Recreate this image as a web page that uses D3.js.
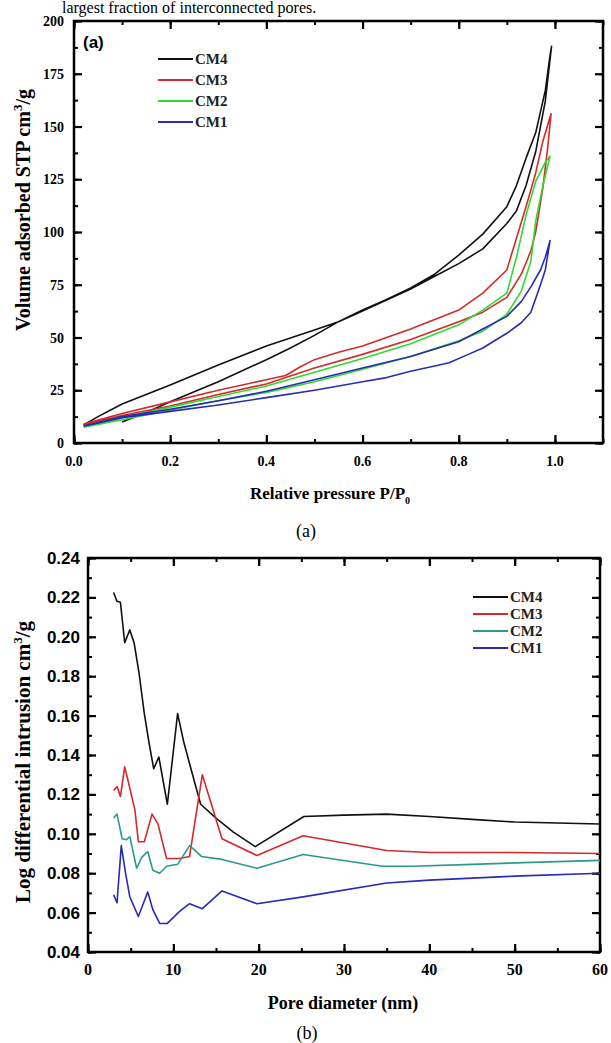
<!DOCTYPE html>
<html>
<head>
<meta charset="utf-8">
<script src="https://cdn.jsdelivr.net/npm/d3@7"></script>
<style>
  body { margin: 0; background: #fff; }
  svg { display: block; }
</style>
</head>
<body>
<div id="chart"></div>
<script>
// ---- data: panel (a) N2 isotherms, path order = adsorption up, desorption back ----
const cm4P = [0.10, 0.15, 0.2, 0.3, 0.4, 0.45, 0.5, 0.55, 0.6, 0.65, 0.7, 0.75, 0.8, 0.85, 0.9, 0.92, 0.94, 0.96, 0.98, 0.99, 0.993,
  0.98, 0.96, 0.94, 0.92, 0.9, 0.85, 0.8, 0.75, 0.7, 0.6, 0.55, 0.5, 0.4, 0.3, 0.2, 0.1, 0.05, 0.02];
const cm4V = [10, 14.5, 19.5, 29, 39.5, 45, 51, 57.5, 63, 68, 73.5, 80, 89, 99, 112, 122, 135, 147, 167, 184, 188,
  162, 138, 122, 110, 104, 92, 85, 79, 73, 62.5, 57.5, 53.5, 46, 37, 27.5, 18.5, 12.5, 8.5];

const cm3P = [0.02, 0.1, 0.2, 0.3, 0.4, 0.5, 0.6, 0.7, 0.8, 0.85, 0.9, 0.93, 0.95, 0.96, 0.975, 0.985, 0.992,
  0.975, 0.96, 0.94, 0.92, 0.9, 0.85, 0.8, 0.7, 0.6, 0.55, 0.5, 0.47, 0.44, 0.4, 0.3, 0.2, 0.1, 0.02];
const cm3V = [8.5, 13, 17.5, 23, 28, 35.5, 42, 49, 57.5, 62, 69, 80, 91, 100, 121, 140, 156,
  143, 128, 112, 97, 82, 71, 63, 54, 46, 43, 39.5, 36, 32, 30, 25, 19.5, 14, 9];

const cm2P = [0.02, 0.1, 0.2, 0.3, 0.4, 0.5, 0.6, 0.7, 0.8, 0.85, 0.9, 0.93, 0.95, 0.96, 0.975, 0.99,
  0.98, 0.96, 0.94, 0.92, 0.9, 0.85, 0.8, 0.7, 0.6, 0.5, 0.4, 0.3, 0.2, 0.1, 0.02];
const cm2V = [7.5, 11, 15.5, 20, 24, 29, 35, 41, 48.5, 53, 61, 72, 86, 105, 122, 136,
  133, 124, 108, 88, 71, 63, 56, 47, 40, 33.5, 27, 22, 17, 12, 7.5];

const cm1P = [0.02, 0.1, 0.2, 0.3, 0.4, 0.5, 0.6, 0.65, 0.7, 0.75, 0.78, 0.82, 0.85, 0.9, 0.93, 0.95, 0.97, 0.98, 0.99,
  0.98, 0.97, 0.95, 0.93, 0.9, 0.85, 0.8, 0.7, 0.6, 0.5, 0.4, 0.3, 0.2, 0.1, 0.02];
const cm1V = [8, 12, 15, 18, 21.5, 25, 29, 31, 34, 36.5, 38, 42, 45, 52, 57, 62, 75, 82, 96,
  88, 82, 74, 67, 60, 54, 48, 41, 35.5, 30, 24.5, 20, 16, 12.5, 8];

// ---- data: panel (b) pore size distribution ----
const bCM4D = [3.0, 3.4, 3.8, 4.3, 4.9, 5.4, 6.0, 6.6, 7.2, 7.7, 8.3, 9.3, 10.5, 11.2, 12.0, 13.2, 15.0, 17.0, 19.6, 25.3, 30, 35, 40, 45, 50, 55, 60];
const bCM4V = [0.2225, 0.218, 0.2175, 0.197, 0.2035, 0.197, 0.181, 0.161, 0.145, 0.133, 0.139, 0.115, 0.161, 0.147, 0.134, 0.115, 0.108, 0.101, 0.0935, 0.1088, 0.1095, 0.110, 0.1088, 0.1073, 0.106, 0.1055, 0.105];

const bCM3D = [3.0, 3.4, 3.8, 4.3, 4.8, 5.5, 5.9, 6.6, 7.5, 8.2, 9.2, 10.7, 11.9, 13.4, 15.7, 19.8, 25.2, 35, 40, 50, 60];
const bCM3V = [0.122, 0.124, 0.119, 0.134, 0.125, 0.112, 0.096, 0.096, 0.110, 0.105, 0.0875, 0.0875, 0.0885, 0.130, 0.0975, 0.089, 0.099, 0.0915, 0.0905, 0.0905, 0.090];

const bCM2D = [3.0, 3.4, 4.0, 4.5, 4.9, 5.7, 6.3, 7.0, 7.6, 8.4, 9.2, 10.5, 11.9, 13.3, 15.7, 19.8, 25.2, 34.5, 38, 45, 52, 60];
const bCM2V = [0.108, 0.110, 0.0975, 0.097, 0.0985, 0.0825, 0.088, 0.091, 0.0815, 0.080, 0.0835, 0.0845, 0.094, 0.0885, 0.087, 0.0825, 0.0895, 0.0835, 0.0835, 0.0845, 0.0855, 0.0865];

const bCM1D = [3.0, 3.4, 3.9, 4.4, 4.9, 5.9, 7.0, 7.6, 8.4, 9.3, 10.7, 11.9, 13.4, 15.7, 19.8, 25.2, 35, 40, 50, 60];
const bCM1V = [0.069, 0.065, 0.094, 0.080, 0.068, 0.058, 0.0705, 0.0615, 0.0545, 0.0545, 0.0605, 0.0645, 0.062, 0.071, 0.0645, 0.068, 0.075, 0.0765, 0.0785, 0.080];

const seriesNames = ["CM4", "CM3", "CM2", "CM1"];
const aColors = ["#111111", "#d42a2a", "#2edb2e", "#2a2ab4"];
const bColors = ["#111111", "#d42a2a", "#2a9a8c", "#2a2ab4"];

const aXTicks = [0, 0.2, 0.4, 0.6, 0.8, 1.0];
const aYTicks = [0, 25, 50, 75, 100, 125, 150, 175, 200];
const bXTicks = [0, 10, 20, 30, 40, 50, 60];
const bYTicks = [0.04, 0.06, 0.08, 0.10, 0.12, 0.14, 0.16, 0.18, 0.20, 0.22, 0.24];

const W = 611, H = 1043;
const serif = "'Liberation Serif', 'Times New Roman', serif";
const sans = "'Liberation Sans', Arial, sans-serif";

const svg = d3.select("#chart").append("svg")
  .attr("width", W).attr("height", H);

// sentence from the surrounding page, above the figure
svg.append("text")
  .attr("x", 62).attr("y", 13)
  .style("font-family", serif).style("font-size", "16px")
  .text("largest fraction of interconnected pores.");

function zip(xs, ys) { return xs.map((d, i) => ({ x: d, y: ys[i] })); }

// draws a framed panel with inward ticks on all four sides
function panel(box, xDom, yDom, xMajor, yMajor, xMinorStep, yMinorStep) {
  const x = d3.scaleLinear().domain(xDom).range([box.left, box.right]);
  const y = d3.scaleLinear().domain(yDom).range([box.bottom, box.top]);
  const g = svg.append("g");

  const xMinor = d3.range(xDom[0], xDom[1] + 1e-9, xMinorStep);
  const yMinor = d3.range(yDom[0], yDom[1] + 1e-9, yMinorStep);

  const sides = [
    [d3.axisBottom, x, `translate(0,${box.bottom})`, xMajor, xMinor],
    [d3.axisTop, x, `translate(0,${box.top})`, xMajor, xMinor],
    [d3.axisLeft, y, `translate(${box.left},0)`, yMajor, yMinor],
    [d3.axisRight, y, `translate(${box.right},0)`, yMajor, yMinor]
  ];
  sides.forEach(([ax, sc, tr, major, minor]) => {
    g.append("g").attr("transform", tr)
      .call(ax(sc).tickValues(minor).tickSize(-4).tickFormat(""))
      .call(s => s.select(".domain").remove())
      .selectAll("line").attr("stroke", "#000").attr("stroke-width", 2);
    g.append("g").attr("transform", tr)
      .call(ax(sc).tickValues(major).tickSize(-8).tickFormat(""))
      .call(s => s.select(".domain").remove())
      .selectAll("line").attr("stroke", "#000").attr("stroke-width", 2.2);
  });

  g.append("rect")
    .attr("x", box.left).attr("y", box.top)
    .attr("width", box.right - box.left).attr("height", box.bottom - box.top)
    .attr("fill", "none").attr("stroke", "#000").attr("stroke-width", 2.5);

  return { x, y, g };
}

function drawLines(p, data, colors) {
  const line = d3.line().x(d => p.x(d.x)).y(d => p.y(d.y));
  data.forEach((d, i) => {
    p.g.append("path")
      .datum(d)
      .attr("fill", "none")
      .attr("stroke", colors[i])
      .attr("stroke-width", 1.6)
      .attr("stroke-linejoin", "round")
      .attr("d", line);
  });
}

function legend(x0, y0, dy, colors, fontSize) {
  seriesNames.forEach((name, i) => {
    const yy = y0 + i * dy;
    svg.append("line")
      .attr("x1", x0).attr("x2", x0 + 35).attr("y1", yy).attr("y2", yy)
      .attr("stroke", colors[i]).attr("stroke-width", 1.8);
    svg.append("text")
      .attr("x", x0 + 37).attr("y", yy + fontSize * 0.35)
      .style("font-family", serif).style("font-weight", "bold")
      .style("font-size", fontSize + "px").attr("fill", "#222")
      .text(name);
  });
}

// ---------------- panel (a) ----------------
const pa = panel({ left: 74, right: 603, top: 21, bottom: 443 }, [0, 1.1], [0, 200],
  aXTicks, aYTicks, 0.1, 12.5);

drawLines(pa, [zip(cm4P, cm4V), zip(cm3P, cm3V), zip(cm2P, cm2V), zip(cm1P, cm1V)], aColors);

pa.g.selectAll(".xl").data(aXTicks).enter().append("text")
  .attr("x", d => pa.x(d)).attr("y", 466)
  .attr("text-anchor", "middle")
  .style("font-family", serif).style("font-weight", "bold").style("font-size", "14px")
  .text(d3.format(".1f"));

pa.g.selectAll(".yl").data(aYTicks).enter().append("text")
  .attr("x", 64).attr("y", d => pa.y(d) + 5)
  .attr("text-anchor", "end")
  .style("font-family", serif).style("font-weight", "bold").style("font-size", "14px")
  .text(d => d);

svg.append("text")
  .attr("x", 83).attr("y", 48)
  .style("font-family", sans).style("font-weight", "bold").style("font-size", "17px")
  .text("(a)");

legend(158, 59, 21, aColors, 15);

const axA = svg.append("text")
  .attr("transform", "translate(30,210) rotate(-90)")
  .attr("text-anchor", "middle")
  .style("font-family", serif).style("font-weight", "bold").style("font-size", "20px");
axA.append("tspan").text("Volume adsorbed STP cm");
axA.append("tspan").attr("dy", -8).style("font-size", "13px").text("3");
axA.append("tspan").attr("dy", 8).text("/g");

const xlA = svg.append("text")
  .attr("x", 330).attr("y", 499)
  .attr("text-anchor", "middle")
  .style("font-family", serif).style("font-weight", "bold").style("font-size", "17px");
xlA.append("tspan").text("Relative pressure P/P");
xlA.append("tspan").attr("dy", 5).style("font-size", "10px").text("0");

svg.append("text")
  .attr("x", 306).attr("y", 537)
  .attr("text-anchor", "middle")
  .style("font-family", serif).style("font-size", "18px")
  .text("(a)");

// ---------------- panel (b) ----------------
const pb = panel({ left: 88, right: 600, top: 558, bottom: 952 }, [0, 60], [0.04, 0.24],
  bXTicks, bYTicks, 5, 0.01);

drawLines(pb, [zip(bCM4D, bCM4V), zip(bCM3D, bCM3V), zip(bCM2D, bCM2V), zip(bCM1D, bCM1V)], bColors);

pb.g.selectAll(".xl").data(bXTicks).enter().append("text")
  .attr("x", d => pb.x(d)).attr("y", 975)
  .attr("text-anchor", "middle")
  .style("font-family", serif).style("font-weight", "bold").style("font-size", "16px")
  .text(d => d);

pb.g.selectAll(".yl").data(bYTicks).enter().append("text")
  .attr("x", 80).attr("y", d => pb.y(d) + 6)
  .attr("text-anchor", "end")
  .style("font-family", sans).style("font-weight", "bold").style("font-size", "17px")
  .text(d3.format(".2f"));

legend(473, 597, 17, bColors, 15);

const axB = svg.append("text")
  .attr("transform", "translate(30,762) rotate(-90)")
  .attr("text-anchor", "middle")
  .style("font-family", serif).style("font-weight", "bold").style("font-size", "21px");
axB.append("tspan").text("Log differential intrusion cm");
axB.append("tspan").attr("dy", -8).style("font-size", "13px").text("3");
axB.append("tspan").attr("dy", 8).text("/g");

svg.append("text")
  .attr("x", 343).attr("y", 1009)
  .attr("text-anchor", "middle")
  .style("font-family", serif).style("font-weight", "bold").style("font-size", "18px")
  .text("Pore diameter (nm)");

svg.append("text")
  .attr("x", 307).attr("y", 1039)
  .attr("text-anchor", "middle")
  .style("font-family", serif).style("font-size", "18px")
  .text("(b)");
</script>
</body>
</html>
